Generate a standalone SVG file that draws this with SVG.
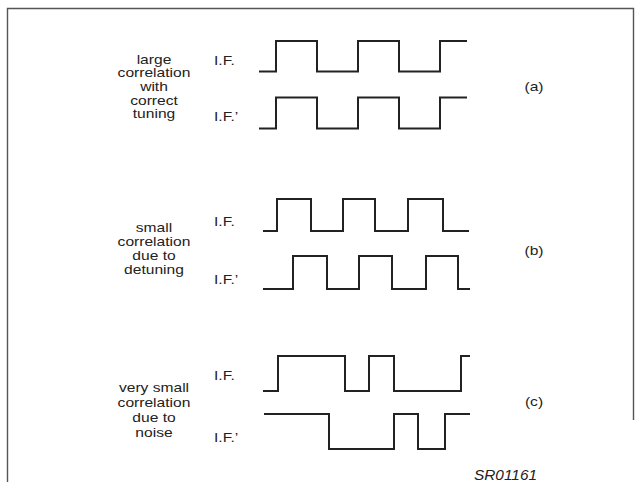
<svg xmlns="http://www.w3.org/2000/svg" width="641" height="482" viewBox="0 0 641 482">
<style>
.t{font-family:"Liberation Sans",Arial,sans-serif;font-size:12px;fill:#222}
.m{text-anchor:middle}
.w{fill:none;stroke:#222;stroke-width:2;stroke-linejoin:miter}
.f{fill:none;stroke:#555;stroke-width:1.4}
</style>
<rect width="641" height="482" fill="#fff"/>
<path class="f" d="M7.5,482 V8.5 H633.5 V420"/>
<g id="section-a">
<text class="t m" transform="translate(154,63.5) scale(1.3,1)">large</text>
<text class="t m" transform="translate(154,77.2) scale(1.3,1)">correlation</text>
<text class="t m" transform="translate(154,90.8) scale(1.3,1)">with</text>
<text class="t m" transform="translate(154,104.5) scale(1.3,1)">correct</text>
<text class="t m" transform="translate(154,118) scale(1.3,1)">tuning</text>
<text class="t" transform="translate(214,65) scale(1.3,1)">I.F.</text>
<text class="t" transform="translate(214,120.5) scale(1.3,1)">I.F.’</text>
<text class="t m" transform="translate(534,90.5) scale(1.3,1)">(a)</text>
<path class="w" d="M259,71.5 H276 V41 H317 V71.5 H358 V41 H399 V71.5 H440 V41 H467"/>
<path class="w" d="M259,128.5 H276 V97.5 H317 V128.5 H358 V97.5 H399 V128.5 H440 V97.5 H467"/>
</g>
<g id="section-b">
<text class="t m" transform="translate(154,232) scale(1.3,1)">small</text>
<text class="t m" transform="translate(154,246) scale(1.3,1)">correlation</text>
<text class="t m" transform="translate(154,260) scale(1.3,1)">due to</text>
<text class="t m" transform="translate(154,274) scale(1.3,1)">detuning</text>
<text class="t" transform="translate(214,226) scale(1.3,1)">I.F.</text>
<text class="t" transform="translate(214,283.5) scale(1.3,1)">I.F.’</text>
<text class="t m" transform="translate(534,255) scale(1.3,1)">(b)</text>
<path class="w" d="M263,231 H277 V199 H311 V231 H343 V199 H375 V231 H408 V199 H443 V231 H469"/>
<path class="w" d="M263,289 H293 V256 H327 V289 H359 V256 H392 V289 H426 V256 H458 V289 H470"/>
</g>
<g id="section-c">
<text class="t m" transform="translate(154,392) scale(1.3,1)">very small</text>
<text class="t m" transform="translate(154,406.5) scale(1.3,1)">correlation</text>
<text class="t m" transform="translate(154,421.5) scale(1.3,1)">due to</text>
<text class="t m" transform="translate(154,436.5) scale(1.3,1)">noise</text>
<text class="t" transform="translate(214,379.5) scale(1.3,1)">I.F.</text>
<text class="t" transform="translate(214,441.5) scale(1.3,1)">I.F.’</text>
<text class="t m" transform="translate(534,406) scale(1.3,1)">(c)</text>
<path class="w" d="M263,391 H278 V356 H345 V391 H369 V356 H394 V391 H461 V356 H470"/>
<path class="w" d="M264,414 H329 V449 H394 V414 H418 V449 H445 V414 H470"/>
</g>
<text class="t" style="font-style:italic;font-size:14px" transform="translate(474,480) scale(1.1,1)">SR01161</text>
</svg>
